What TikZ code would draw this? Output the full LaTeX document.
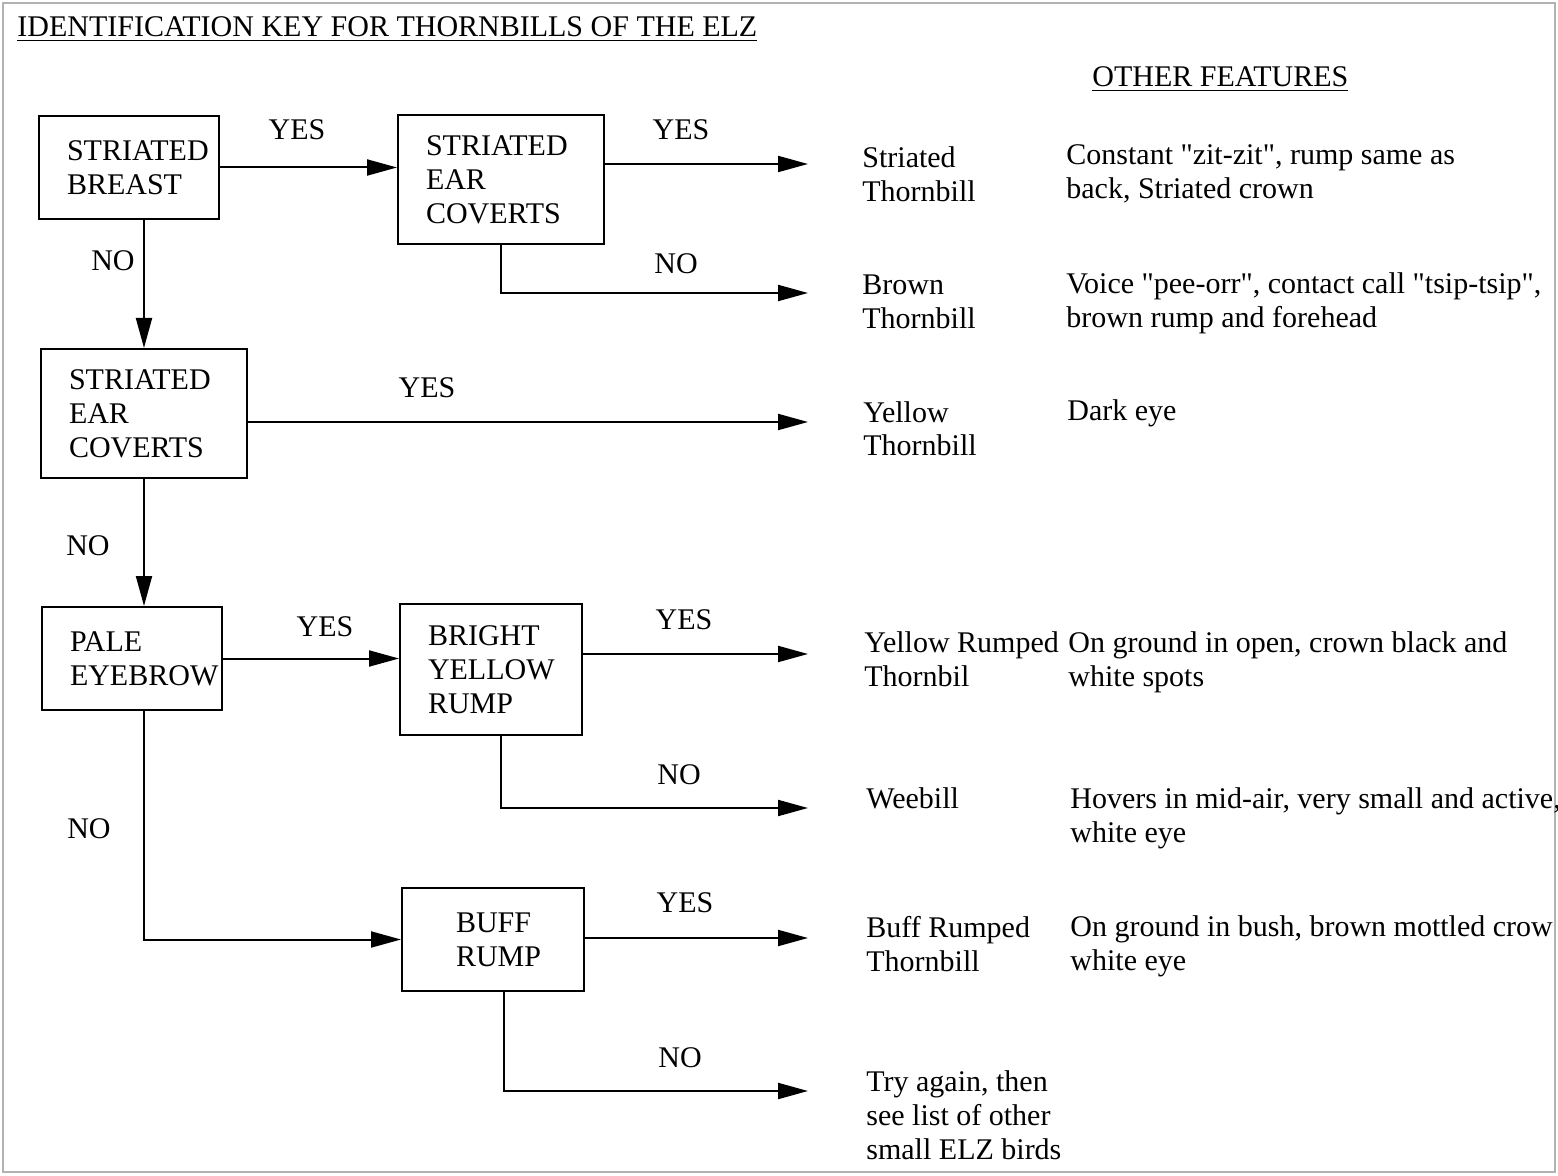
\documentclass[tikz,border=0pt]{standalone}
\usepackage{fontspec}
\setmainfont{Liberation Serif}[Ligatures=TeXOff]
\usetikzlibrary{arrows.meta}
\begin{document}
\begin{tikzpicture}[x=0.5pt,y=-0.5pt,
  every node/.style={font=\fontsize{15}{17}\selectfont,inner sep=0pt},
  keybox/.style={draw,line width=1pt,align=left,inner xsep=14pt},
  answer/.style={anchor=base},
  bird/.style={anchor=base west,align=left},
  link/.style={line width=1pt,-{Triangle[length=15pt,width=8pt]}}]
\useasboundingbox (0,0) rectangle (1558,1176);
\draw[gray!60,line width=1.2pt] (3,3) rectangle (1555,1172);

\node[anchor=base west] (title) at (17,37) {\underline{IDENTIFICATION KEY FOR THORNBILLS OF THE ELZ}};
\node[anchor=base west] (other) at (1092,87) {\underline{OTHER FEATURES}};

\node[keybox,text width=62pt,minimum height=51.5pt] (breast) at (129,167.5) {STRIATED\\BREAST};
\node[keybox,text width=75pt,minimum height=64.5pt] (earA) at (501,179.5) {STRIATED\\EAR\\COVERTS};
\node[keybox,text width=75pt,minimum height=64.5pt] (earB) at (144,413.5) {STRIATED\\EAR\\COVERTS};
\node[keybox,text width=62pt,minimum height=51.5pt] (brow) at (132,658.5) {PALE\\EYEBROW};
\node[keybox,text width=63pt,minimum height=65.5pt] (yrump) at (491,669.5) {BRIGHT\\YELLOW\\RUMP};
\node[keybox,inner xsep=27pt,text width=37pt,minimum height=51.5pt] (buff) at (493,939.5) {BUFF\\RUMP};

% anchors sit on the last line
\node[bird] (striated) at (862,202) {Striated\\Thornbill};
\node[bird] (brown) at (862,329) {Brown\\Thornbill};
\node[bird] (yellow) at (863,456) {Yellow\\Thornbill};
\node[bird] (yrumped) at (864,686) {Yellow Rumped\\Thornbil};
\node[bird] (weebill) at (866,808) {Weebill};
\node[bird] (brumped) at (866,971) {Buff Rumped\\Thornbill};
\node[bird] (again) at (866,1159) {Try again, then\\see list of other\\small ELZ birds};

\node[bird] (fstriated) at (1066,199) {Constant "zit-zit", rump same as\\back, Striated crown};
\node[bird] (fbrown) at (1066,328) {Voice "pee-orr", contact call "tsip-tsip",\\brown rump and forehead};
\node[bird] (fyellow) at (1067,421) {Dark eye};
\node[bird] (fyrumped) at (1068,686) {On ground in open, crown black and\\white spots};
\node[bird] (fweebill) at (1070,842) {Hovers in mid-air, very small and active,\\white eye};
\node[bird] (fbrumped) at (1070,970) {On ground in bush, brown mottled crow\\white eye};

\coordinate (tipA) at (808,164);
\coordinate (tipB) at (808,293);
\coordinate (tipC) at (808,422);
\coordinate (tipD) at (808,654);
\coordinate (tipE) at (808,808);
\coordinate (tipF) at (808,938);
\coordinate (tipG) at (808,1091);

\draw[link] (breast.east) -- (breast.east -| earA.west);
\draw[link] (earA.east |- tipA) -- (tipA);
\draw[link] (earA.south) |- (tipB);
\draw[link] (earB.north |- breast.south) -- (earB.north);
\draw[link] (earB.east |- tipC) -- (tipC);
\draw[link] (earB.south) -- (earB.south |- brow.north);
\draw[link] (brow.east) -- (brow.east -| yrump.west);
\draw[link] (yrump.east |- tipD) -- (tipD);
\draw[link] ([xshift=5pt]yrump.south) |- (tipE);
\draw[link] (earB.south |- brow.south) |- (buff.west);
\draw[link] (buff.east |- tipF) -- (tipF);
\draw[link] ([xshift=5.5pt]buff.south) |- (tipG);

\node[answer] (yesA) at (297,140) {YES};
\node[answer] (yesB) at (681,140) {YES};
\node[answer] (noA) at (113,271) {NO};
\node[answer] (noB) at (676,274) {NO};
\node[answer] (yesC) at (427,398) {YES};
\node[answer] (noC) at (88,555) {NO};
\node[answer] (yesD) at (325,636) {YES};
\node[answer] (yesE) at (684,629) {YES};
\node[answer] (noD) at (679,784) {NO};
\node[answer] (noE) at (89,838) {NO};
\node[answer] (yesF) at (685,912) {YES};
\node[answer] (noF) at (680,1067) {NO};
\end{tikzpicture}
\end{document}
